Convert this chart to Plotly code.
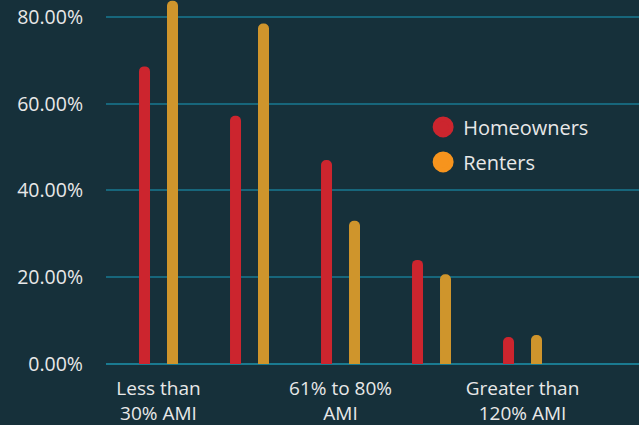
import plotly.graph_objects as go

categories = ["Less than<br>30% AMI", "31% to 60%<br>AMI", "61% to 80%<br>AMI",
              "81% to 120%<br>AMI", "Greater than<br>120% AMI"]
shown_ticks = ["Less than<br>30% AMI", "61% to 80%<br>AMI", "Greater than<br>120% AMI"]
homeowners = [68.6, 57.2, 47.0, 24.0, 6.2]
renters = [83.7, 78.5, 33.0, 20.7, 6.7]
y_ticks = [0, 20, 40, 60, 80]
y_tick_text = ["0.00%", "20.00%", "40.00%", "60.00%", "80.00%"]

BG = "#16303a"
RED = "#cc252e"
ORANGE_BAR = "#cf952c"
ORANGE_LEG = "#f7941d"
TXT = "#e8e8e8"
FONT = "Open Sans, sans-serif"

fig = go.Figure()
fig.add_trace(go.Bar(x=categories, y=homeowners, name="Homeowners",
                     marker=dict(color=RED, line=dict(width=0)), showlegend=False))
fig.add_trace(go.Bar(x=categories, y=renters, name="Renters",
                     marker=dict(color=ORANGE_BAR, line=dict(width=0)), showlegend=False))
# legend entries with circular symbols
fig.add_trace(go.Scatter(x=[None], y=[None], mode="markers", name="Homeowners",
                         legendgroup="h",
                         marker=dict(color=RED, size=22, symbol="circle",
                                     line=dict(color=RED, width=5))))
fig.add_trace(go.Scatter(x=[None], y=[None], mode="markers", name="Renters",
                         legendgroup="r",
                         marker=dict(color=ORANGE_LEG, size=22, symbol="circle",
                                     line=dict(color=ORANGE_LEG, width=5))))

fig.update_layout(
    width=639, height=425,
    paper_bgcolor=BG, plot_bgcolor=BG,
    margin=dict(l=106, r=0, t=0, b=61),
    barmode="group", bargap=0.385, bargroupgap=0.607,
    barcornerradius="50%",
    font=dict(family=FONT, color=TXT, size=19),
    legend=dict(x=0.595, y=0.705, xanchor="left", yanchor="top",
                font=dict(size=20, color=TXT, family=FONT),
                tracegroupgap=6,
                bgcolor="rgba(0,0,0,0)", itemsizing="trace"),
    xaxis=dict(type="category", range=[-0.577, 5.28], showgrid=False,
               tickmode="array", tickvals=shown_ticks, ticktext=shown_ticks,
               tickfont=dict(size=19, color=TXT), ticks="", ticklabelstandoff=11,
               showline=False, zeroline=False),
    yaxis=dict(range=[0, 83.9], tickvals=y_ticks, ticktext=y_tick_text,
               showgrid=True, gridcolor="#17667b", gridwidth=1.5,
               zeroline=True, zerolinecolor="#1a7a90", zerolinewidth=1.5,
               tickfont=dict(size=19.5, color=TXT), ticks="", ticklabelstandoff=22,
               showline=False),
)

fig.write_html("out.html",
               config={"displayModeBar": False},
               post_script="document.body.style.margin='0';document.body.style.padding='0';"
                           "document.body.style.background='" + BG + "';")
